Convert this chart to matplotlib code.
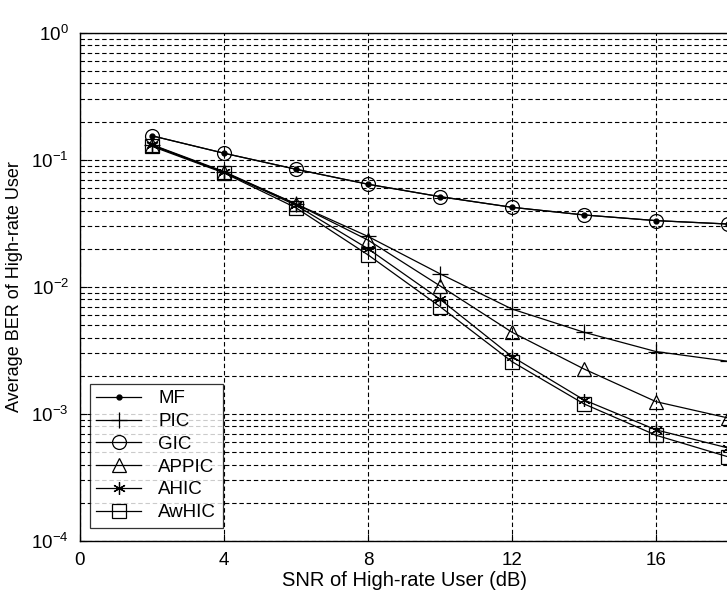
import numpy as np
import matplotlib.pyplot as plt

plt.rcParams['font.family'] = ['Liberation Sans', 'DejaVu Sans']

# SNR points (dB) and average BER of the high-rate user for each receiver
snr = [2, 4, 6, 8, 10, 12, 14, 16, 18]
ber_mf = [0.155, 0.113, 0.0845, 0.0644, 0.0514, 0.0424, 0.0369, 0.0333, 0.0313]
ber_pic = [0.132, 0.081, 0.045, 0.025, 0.0127, 0.0067, 0.0044, 0.0031, 0.0026]
ber_gic = [0.155, 0.113, 0.0845, 0.0644, 0.0514, 0.0424, 0.0369, 0.0333, 0.0313]
ber_appic = [0.131, 0.080, 0.045, 0.0234, 0.0102, 0.0044, 0.00226, 0.00125, 0.00093]
ber_ahic = [0.130, 0.080, 0.044, 0.020, 0.0080, 0.00283, 0.00129, 0.00075, 0.00054]
ber_awhic = [0.128, 0.079, 0.042, 0.0179, 0.0070, 0.00258, 0.0012, 0.00068, 0.00046]

labels = ['MF', 'PIC', 'GIC', 'APPIC', 'AHIC', 'AwHIC']
xticks = [0, 4, 8, 12, 16]

fig = plt.figure(figsize=(7.27, 5.97), dpi=100)
ax = fig.add_axes([0.110, 0.0938, 0.8915, 0.851])

ln = dict(color='black', lw=0.9)
open_mk = dict(mfc='none', mec='black', mew=0.9)
ax.semilogy(snr, ber_mf, marker='.', ms=7, **ln, label=labels[0])
ax.semilogy(snr, ber_pic, marker='+', ms=11, mew=0.9, **ln, label=labels[1])
ax.semilogy(snr, ber_gic, marker='o', ms=10, **open_mk, **ln, label=labels[2])
ax.semilogy(snr, ber_appic, marker='^', ms=10, **open_mk, **ln, label=labels[3])
ax.semilogy(snr, ber_ahic, marker=(6, 2, 0), ms=9, mew=0.9, **ln, label=labels[4])
ax.semilogy(snr, ber_awhic, marker='s', ms=10, **open_mk, **ln, label=labels[5])

ax.set_xlim(0, 18)
ax.set_ylim(1e-4, 1)
ax.set_xticks(xticks)

# dashed grid: major x, major + minor y
dash = (0, (4, 2.5))
ax.grid(True, which='major', axis='both', color='black', ls=dash, lw=0.8)
ax.grid(True, which='minor', axis='y', color='black', ls=dash, lw=0.8)

ax.tick_params(which='both', direction='in', labelsize=13.5, colors='black')
ax.tick_params(which='major', length=5, pad=8)
ax.tick_params(which='minor', length=3)
for s in ax.spines.values():
    s.set_linewidth(1.0)

ax.set_xlabel('SNR of High-rate User (dB)', fontsize=14.5, labelpad=1)
ax.set_ylabel('Average BER of High-rate User', fontsize=13, labelpad=6)

leg = ax.legend(loc='lower left', bbox_to_anchor=(0.015, 0.026), borderaxespad=0,
                fontsize=13.5, frameon=True, fancybox=False, edgecolor='black',
                handlelength=2.4, labelspacing=0.3, borderpad=0.35,
                handletextpad=0.9)
leg.get_frame().set_linewidth(0.9)

fig.savefig('out.png', dpi=100, facecolor='white')
